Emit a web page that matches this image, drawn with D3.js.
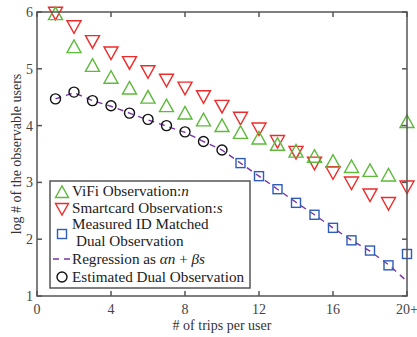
<!DOCTYPE html>
<html>
<head>
<meta charset="utf-8">
<script src="https://cdn.jsdelivr.net/npm/d3@7"></script>
<style>
  html, body { margin: 0; padding: 0; background: #fff; }
  svg { display: block; font-family: "Liberation Serif", "DejaVu Serif", serif; }
</style>
</head>
<body>
<div id="chart"></div>
<script>
'use strict';

// trips per user (20 stands for "20+")
const trips = d3.range(1, 21);

// log # of observable users
const vifi = [5.97, 5.39, 5.06, 4.85, 4.66, 4.50, 4.35, 4.22, 4.10, 4.00,
              3.88, 3.78, 3.67, 3.55, 3.46, 3.37, 3.28, 3.21, 3.13, 4.07];
const smartcard = [5.98, 5.74, 5.48, 5.28, 5.11, 4.95, 4.80, 4.66, 4.51, 4.34,
                   4.13, 3.94, 3.72, 3.53, 3.34, 3.17, 2.99, 2.78, 2.63, 2.92];
const measuredTrips = d3.range(11, 21);
const measured = [3.34, 3.11, 2.88, 2.64, 2.43, 2.20, 1.98, 1.80, 1.54, 1.74];
const regression = [4.47, 4.58, 4.44, 4.34, 4.22, 4.10, 3.99, 3.88, 3.72, 3.57,
                    3.34, 3.11, 2.88, 2.65, 2.43, 2.20, 1.98, 1.79, 1.55, 1.26];
const estimatedTrips = d3.range(1, 11);
const estimated = [4.47, 4.59, 4.44, 4.35, 4.22, 4.11, 4.00, 3.89, 3.72, 3.57];

const xTicks = [0, 4, 8, 12, 16, 20];
const xTickLabels = ['0', '4', '8', '12', '16', '20+'];
const yTicks = [1, 2, 3, 4, 5, 6];

const W = 417, H = 337;
const GREEN = '#5dba3b', RED = '#ee2b2b', BLUE = '#2f5cb8', PURPLE = '#7a35a8', AXIS = '#555';

const x = d3.scaleLinear().domain([0, 20]).range([37, 407]);
const y = d3.scaleLinear().domain([1, 6]).range([296, 12]);

const svg = d3.select('#chart').append('svg').attr('width', W).attr('height', H);

// marker shapes
const triUp = s => `M${-s},${s * 0.85}L${s},${s * 0.85}L0,${-s * 0.95}Z`;
const triDown = s => `M${-s},${-s * 0.85}L${s},${-s * 0.85}L0,${s * 0.95}Z`;

// regression line
svg.append('path')
    .datum(trips.map((t, i) => [t, regression[i]]))
    .attr('d', d3.line().x(d => x(d[0])).y(d => y(d[1])))
    .attr('fill', 'none').attr('stroke', PURPLE).attr('stroke-width', 1.4)
    .attr('stroke-dasharray', '6,5');

// estimated dual observation
svg.append('g').selectAll('circle')
    .data(estimatedTrips.map((t, i) => [t, estimated[i]]))
    .join('circle')
    .attr('cx', d => x(d[0])).attr('cy', d => y(d[1])).attr('r', 5)
    .attr('fill', 'none').attr('stroke', '#111').attr('stroke-width', 1.4);

// measured ID matched
svg.append('g').selectAll('rect')
    .data(measuredTrips.map((t, i) => [t, measured[i]]))
    .join('rect')
    .attr('x', d => x(d[0]) - 4.5).attr('y', d => y(d[1]) - 4.5)
    .attr('width', 9).attr('height', 9)
    .attr('fill', 'none').attr('stroke', BLUE).attr('stroke-width', 1.4);

// smartcard
svg.append('g').selectAll('path')
    .data(trips.map((t, i) => [t, smartcard[i]]))
    .join('path')
    .attr('transform', d => `translate(${x(d[0])},${y(d[1])})`)
    .attr('d', triDown(7))
    .attr('fill', 'none').attr('stroke', RED).attr('stroke-width', 1.4);

// vifi
svg.append('g').selectAll('path')
    .data(trips.map((t, i) => [t, vifi[i]]))
    .join('path')
    .attr('transform', d => `translate(${x(d[0])},${y(d[1])})`)
    .attr('d', triUp(7))
    .attr('fill', 'none').attr('stroke', GREEN).attr('stroke-width', 1.4);

// axes box with inward ticks
const axisG = svg.append('g').attr('stroke', AXIS).attr('stroke-width', 1.5);
axisG.append('rect')
    .attr('x', x(0)).attr('y', y(6)).attr('width', x(20) - x(0)).attr('height', y(1) - y(6))
    .attr('fill', 'none');
xTicks.forEach(t => {
    axisG.append('line').attr('x1', x(t)).attr('x2', x(t)).attr('y1', y(1)).attr('y2', y(1) - 5);
    axisG.append('line').attr('x1', x(t)).attr('x2', x(t)).attr('y1', y(6)).attr('y2', y(6) + 5);
});
yTicks.forEach(t => {
    axisG.append('line').attr('x1', x(0)).attr('x2', x(0) + 5).attr('y1', y(t)).attr('y2', y(t));
    axisG.append('line').attr('x1', x(20)).attr('x2', x(20) - 5).attr('y1', y(t)).attr('y2', y(t));
});

svg.append('g').selectAll('text')
    .data(xTicks)
    .join('text')
    .attr('x', d => x(d)).attr('y', y(1) + 18)
    .attr('text-anchor', 'middle').attr('font-size', 14).attr('fill', '#444')
    .text((d, i) => xTickLabels[i]);

svg.append('g').selectAll('text')
    .data(yTicks)
    .join('text')
    .attr('x', x(0) - 4).attr('y', d => y(d) + 5)
    .attr('text-anchor', 'end').attr('font-size', 14).attr('fill', '#444')
    .text(d => d);

svg.append('text')
    .attr('x', (x(0) + x(20)) / 2).attr('y', 330)
    .attr('text-anchor', 'middle').attr('font-size', 14).attr('fill', '#333')
    .text('# of trips per user');

svg.append('text')
    .attr('transform', `translate(21,${(y(1) + y(6)) / 2}) rotate(-90)`)
    .attr('text-anchor', 'middle').attr('font-size', 14).attr('fill', '#333')
    .text('log # of the observable users');

// legend
const lg = svg.append('g').attr('font-size', 15.2).attr('fill', '#222');
lg.append('rect').attr('x', 50).attr('y', 181).attr('width', 200).attr('height', 107)
    .attr('fill', '#fff').attr('stroke', AXIS).attr('stroke-width', 1.5);

lg.append('path').attr('transform', 'translate(62,192)').attr('d', triUp(6.5))
    .attr('fill', 'none').attr('stroke', GREEN).attr('stroke-width', 1.4);
const t1 = lg.append('text').attr('x', 72).attr('y', 196);
t1.append('tspan').text('ViFi Observation:');
t1.append('tspan').attr('font-style', 'italic').text('n');

lg.append('path').attr('transform', 'translate(62,209)').attr('d', triDown(6.5))
    .attr('fill', 'none').attr('stroke', RED).attr('stroke-width', 1.4);
const t2 = lg.append('text').attr('x', 72).attr('y', 213);
t2.append('tspan').text('Smartcard Observation:');
t2.append('tspan').attr('font-style', 'italic').text('s');

lg.append('rect').attr('x', 57.5).attr('y', 229.5).attr('width', 9).attr('height', 9)
    .attr('fill', 'none').attr('stroke', BLUE).attr('stroke-width', 1.4);
lg.append('text').attr('x', 72).attr('y', 229).text('Measured ID Matched');
lg.append('text').attr('x', 76).attr('y', 246).text('Dual Observation');

lg.append('line').attr('x1', 53).attr('x2', 71).attr('y1', 259).attr('y2', 259)
    .attr('stroke', PURPLE).attr('stroke-width', 1.4).attr('stroke-dasharray', '6,5');
const t4 = lg.append('text').attr('x', 72).attr('y', 264);
t4.append('tspan').text('Regression as ');
t4.append('tspan').attr('font-style', 'italic').text('αn');
t4.append('tspan').text(' + ');
t4.append('tspan').attr('font-style', 'italic').text('βs');

lg.append('circle').attr('cx', 62).attr('cy', 277).attr('r', 5)
    .attr('fill', 'none').attr('stroke', '#111').attr('stroke-width', 1.4);
lg.append('text').attr('x', 72).attr('y', 282).text('Estimated Dual Observation');
</script>
</body>
</html>
